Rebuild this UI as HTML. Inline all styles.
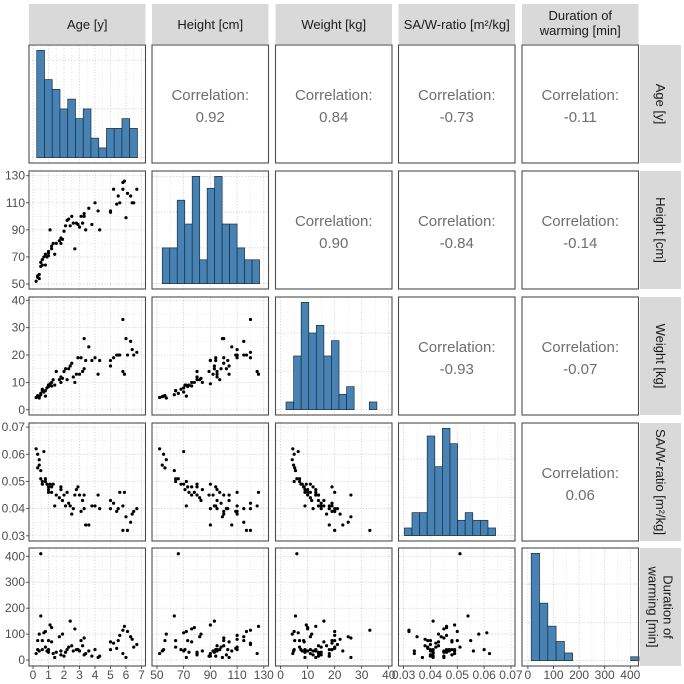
<!DOCTYPE html>
<html><head><meta charset="utf-8"><style>
html,body{margin:0;padding:0;background:#fff;}
svg{display:block;font-family:"Liberation Sans",sans-serif;}
</style></head><body>
<svg id="chart" width="684" height="684" viewBox="0 0 684 684"></svg>
<script>
// ---- data rows (age, height, weight, saw, duration) ----
const age = [0.2,0.3,0.3,0.4,0.4,0.5,0.5,0.6,0.6,0.7,0.8,0.9,1.0,1.0,1.1,1.2,1.2,1.3,1.4,1.5,1.7,1.8,1.8,1.9,2.0,2.2,2.3,2.4,2.5,2.6,2.7,2.8,2.9,3.0,3.1,3.2,3.3,3.3,3.4,3.6,3.8,4.0,4.2,4.3,5.0,5.0,5.2,5.4,5.5,5.6,5.8,5.9,6.0,6.1,6.3,6.4,6.5,6.7,1.0,0.8,2.1,5.8];
const height = [52,55,56,57,54,63,66,64,68,70,72,70,73,71,90,78,76,80,72,80,82,80,84,83,89,97,98,93,100,95,76,95,94,92,100,95,100,102,90,106,94,110,104,90,104,103,120,109,115,110,125,126,99,117,115,110,110,120,74,64,93,120];
const weight = [4.5,5,5.2,4.3,4.8,5.5,6,7,7.5,6.5,5,8,8.5,9,9.5,10,8.7,11,9,14,11,12,10,11.5,14,11,15,16,17,12,10,13,19,13,19,14,26,15,18,23,18,19,13,18,16,18,19,20,20,20,14,13,26,20,25,22,20,21,9,7,15,33];
const saw = [0.062,0.060,0.055,0.058,0.056,0.054,0.051,0.050,0.049,0.061,0.050,0.049,0.048,0.047,0.049,0.046,0.048,0.049,0.041,0.045,0.044,0.048,0.047,0.043,0.045,0.046,0.042,0.041,0.038,0.040,0.045,0.047,0.048,0.045,0.039,0.043,0.045,0.040,0.034,0.034,0.041,0.041,0.045,0.040,0.043,0.040,0.042,0.039,0.040,0.046,0.041,0.046,0.037,0.032,0.035,0.038,0.039,0.040,0.046,0.051,0.041,0.032];
const duration = [25,40,75,100,35,170,410,75,40,105,110,35,75,40,135,125,70,25,10,30,90,20,35,100,15,40,50,150,55,35,120,40,40,35,75,55,85,20,25,35,15,40,10,15,70,40,65,45,75,95,25,130,10,110,90,80,50,60,30,50,30,115];

// ---- histogram counts ----
const ageCounts = [11,8,7,5,6,4,5,2,1,3,3,4,3];
const heightCounts = [3,3,7,5,9,2,8,9,5,5,3,2,2];
const weightCounts = [1,7,14,10,11,7,9,2,3,0,0,1];
const sawCounts = [1,3,3,13,9,14,12,2,3,2,2,1];
const durationCounts = [28,15,9,5,2,0,0,0,0,0,0,0,1];

// ---- correlations (upper triangle) ----
const corrLabels = ["0.92","0.84","-0.73","-0.11","0.90","-0.84","-0.14","-0.93","-0.07","0.06"];

// ---- tick labels ----
const ageTicks = [0,1,2,3,4,5,6,7];
const heightTicks = [50,70,90,110,130];
const weightTicks = [0,10,20,30,40];
const sawTicks = [0.03,0.04,0.05,0.06,0.07];
const durationTicks = [0,100,200,300,400];
const varNames = ["Age [y]","Height [cm]","Weight [kg]","SA/W-ratio [m²/kg]","Duration of warming [min]"];

const vars = [
 {key:"age", vals:age, dom:[-0.26,7.26], ticks:ageTicks, fmt:v=>String(v), counts:ageCounts, b0:0.24, bw:0.5},
 {key:"height", vals:height, dom:[46.3,133.5], ticks:heightTicks, fmt:v=>String(v), counts:heightCounts, b0:54, bw:5.6},
 {key:"weight", vals:weight, dom:[-1.9,41.2], ticks:weightTicks, fmt:v=>String(v), counts:weightCounts, b0:2, bw:2.8},
 {key:"saw", vals:saw, dom:[0.0281,0.0715], ticks:sawTicks, fmt:v=>v.toFixed(2), counts:sawCounts, b0:0.0303, bw:0.00283},
 {key:"duration", vals:duration, dom:[-23,432], ticks:durationTicks, fmt:v=>String(v), counts:durationCounts, b0:13, bw:32.4}
];
const colL=[29,152,275.5,398.5,522], colW=116.5;
const rowT=[45,171,297,423,548], rowH=118;
const NS="http://www.w3.org/2000/svg";
const svg=document.getElementById("chart");
function mk(tag,attrs,parent){const e=document.createElementNS(NS,tag);for(const k in attrs)e.setAttribute(k,attrs[k]);(parent||svg).appendChild(e);return e;}
function sx(c,v){const d=vars[c].dom;return colL[c]+(v-d[0])/(d[1]-d[0])*colW;}
function sy(r,v){const d=vars[r].dom;return rowT[r]+rowH-(v-d[0])/(d[1]-d[0])*rowH;}

// top strips
for(let c=0;c<5;c++){
 const g=mk("g",{});
 
 
 mk("rect",{x:colL[c],y:4,width:colW,height:40,fill:"#d9d9d9"},g);
 if(c===4){
  const t=mk("text",{x:colL[c]+colW/2,y:20,"text-anchor":"middle","font-size":"13",fill:"#1a1a1a"},g);t.textContent="Duration of";
  const t2=mk("text",{x:colL[c]+colW/2,y:35,"text-anchor":"middle","font-size":"13",fill:"#1a1a1a"},g);t2.textContent="warming [min]";
 } else {
  const t=mk("text",{x:colL[c]+colW/2,y:29,"text-anchor":"middle","font-size":"13",fill:"#1a1a1a"},g);t.textContent=varNames[c];
 }
}
// right strips
for(let r=0;r<5;r++){
 const g=mk("g",{});
 
 
 mk("rect",{x:640,y:rowT[r],width:41,height:rowH,fill:"#d9d9d9"},g);
 const cx=660.5, cy=rowT[r]+rowH/2;
 if(r===4){
  const t=mk("text",{x:cx,y:cy,"text-anchor":"middle","font-size":"13",fill:"#1a1a1a",transform:`rotate(90 ${cx} ${cy})`},g);
  const a=mk("tspan",{x:cx,dy:"-3"},t);a.textContent="Duration of";
  const b=mk("tspan",{x:cx,dy:"15"},t);b.textContent="warming [min]";
 } else {
  const t=mk("text",{x:cx,y:cy+4.5,"text-anchor":"middle","font-size":"13",fill:"#1a1a1a",transform:`rotate(90 ${cx} ${cy})`},g);t.textContent=varNames[r];
 }
}

let ci=0;
for(let r=0;r<5;r++){
 for(let c=0;c<5;c++){
  const g=mk("g",{});
  const x0=colL[c],y0=rowT[r];
  if(c>r){
   
   
   mk("rect",{x:x0,y:y0,width:colW,height:rowH,fill:"#fff",stroke:"#4d4d4d","stroke-width":1.1},g);
   const t1=mk("text",{x:x0+colW/2,y:y0+rowH/2-4,"text-anchor":"middle","font-size":"15",fill:"#6e6e6e"},g);t1.textContent="Correlation:";
   const t2=mk("text",{x:x0+colW/2,y:y0+rowH/2+18,"text-anchor":"middle","font-size":"15",fill:"#6e6e6e"},g);t2.textContent=corrLabels[ci++];
   continue;
  }
  mk("rect",{x:x0,y:y0,width:colW,height:rowH,fill:"#fff"},g);
  // vertical grid
  const xt=vars[c].ticks;
  for(let i=0;i<xt.length;i++){
   const gx=sx(c,xt[i]);
   mk("line",{x1:gx,x2:gx,y1:y0,y2:y0+rowH,stroke:"#cfcfcf","stroke-width":0.7,"stroke-dasharray":"1.5,1.5"},g);
   if(i<xt.length-1){const mx=sx(c,(xt[i]+xt[i+1])/2);mk("line",{x1:mx,x2:mx,y1:y0,y2:y0+rowH,stroke:"#e0e0e0","stroke-width":0.5,"stroke-dasharray":"1.5,1.5"},g);}
  }
  if(c===r){
   
   
   const v=vars[c];const m=Math.max(...v.counts);
   const hy=n=>y0+rowH-(n+0.05*m)/(1.1*m)*rowH;
   const step=m>20?10:(m>10?5:3);
   for(let k=0;k<=m;k+=step){mk("line",{x1:x0,x2:x0+colW,y1:hy(k),y2:hy(k),stroke:"#cfcfcf","stroke-width":0.7,"stroke-dasharray":"1.5,1.5"},g);}
   v.counts.forEach((n,i)=>{
    const bx=sx(c,v.b0+i*v.bw),bx2=sx(c,v.b0+(i+1)*v.bw);
    const b=mk("rect",{x:bx,y:hy(n),width:bx2-bx,height:hy(0)-hy(n),fill:"#4682b4",stroke:"#1f2d3a","stroke-width":0.7},g);
    
    
   });
  } else {
   
   
   const yt=vars[r].ticks;
   for(let i=0;i<yt.length;i++){
    const gy=sy(r,yt[i]);
    mk("line",{x1:x0,x2:x0+colW,y1:gy,y2:gy,stroke:"#cfcfcf","stroke-width":0.7,"stroke-dasharray":"1.5,1.5"},g);
    if(i<yt.length-1){const my=sy(r,(yt[i]+yt[i+1])/2);mk("line",{x1:x0,x2:x0+colW,y1:my,y2:my,stroke:"#e0e0e0","stroke-width":0.5,"stroke-dasharray":"1.5,1.5"},g);}
   }
   const xv=vars[c].vals,yv=vars[r].vals;
   for(let i=0;i<xv.length;i++){
    const p=mk("circle",{cx:sx(c,xv[i]),cy:sy(r,yv[i]),r:1.6,fill:"#000"},g);
    
    
   }
  }
  mk("rect",{x:x0,y:y0,width:colW,height:rowH,fill:"none",stroke:"#4d4d4d","stroke-width":1.1},g);
 }
}
// x-axis labels
for(let c=0;c<5;c++){
 const g=mk("g",{});
 
 
 vars[c].ticks.forEach(t=>{
  const x=sx(c,t);
  mk("line",{x1:x,x2:x,y1:666,y2:669,stroke:"#333","stroke-width":0.8},g);
  const tx=mk("text",{x:x,y:679,"text-anchor":"middle","font-size":"12",fill:"#4d4d4d"},g);tx.textContent=vars[c].fmt(t);
 });
}
// y-axis labels rows 2-5
for(let r=1;r<5;r++){
 const g=mk("g",{});
 
 
 vars[r].ticks.forEach(t=>{
  const y=sy(r,t);
  mk("line",{x1:26,x2:29,y1:y,y2:y,stroke:"#333","stroke-width":0.8},g);
  const tx=mk("text",{x:25,y:y+4,"text-anchor":"end","font-size":"12",fill:"#4d4d4d"},g);tx.textContent=vars[r].fmt(t);
 });
}
</script>
</body></html>
